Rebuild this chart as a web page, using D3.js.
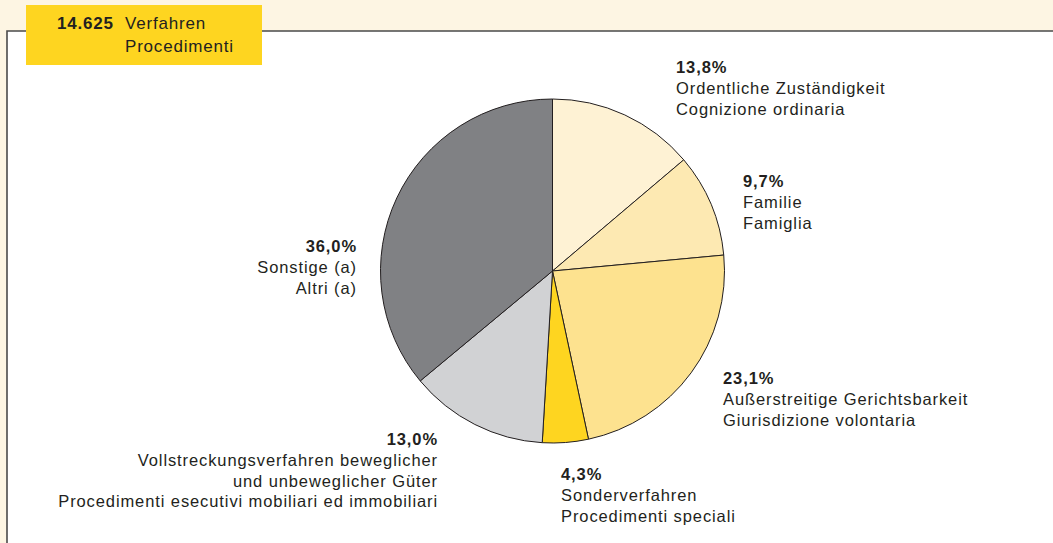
<!DOCTYPE html>
<html><head><meta charset="utf-8">
<script src="https://cdn.jsdelivr.net/npm/d3@7"></script>
<style>
html,body{margin:0;padding:0;background:#fdf5e3;}
svg{display:block;}
</style></head>
<body>
<script>
const categories = ["Ordentliche Zuständigkeit|Cognizione ordinaria","Familie|Famiglia","Außerstreitige Gerichtsbarkeit|Giurisdizione volontaria","Sonderverfahren|Procedimenti speciali","Vollstreckungsverfahren beweglicher|und unbeweglicher Güter|Procedimenti esecutivi mobiliari ed immobiliari","Sonstige (a)|Altri (a)"];
const values = [13.8, 9.7, 23.1, 4.3, 13.0, 36.0];
const valueLabels = ["13,8%","9,7%","23,1%","4,3%","13,0%","36,0%"];
const colors = ["#fef2d4","#fde9b2","#fde28f","#fed520","#d1d2d4","#808184"];
const titleNumber = "14.625";
const titleLines = ["Verfahren","Procedimenti"];

// label placement: [x, baseline y, anchor]
const labelPos = [[676,73,"start"],[743,187,"start"],[723,384,"start"],[561,480,"start"],[438,445,"end"],[357,252,"end"]];

const FONT = "'Liberation Sans', Arial, Helvetica, sans-serif";
const FS = 16.5, LS = 0.9;
const W=1053,H=543;
const svg=d3.select("body").append("svg").attr("width",W).attr("height",H).attr("font-family",FONT);
svg.append("rect").attr("x",0).attr("y",0).attr("width",W).attr("height",H).attr("fill","#fdf5e3");
svg.append("rect").attr("x",7).attr("y",31).attr("width",W).attr("height",H).attr("fill","#ffffff");
svg.append("path").attr("d",`M7,${H} V31 H${W}`).attr("fill","none").attr("stroke","#4a4a4a").attr("stroke-width",1.6);

// title box
svg.append("rect").attr("x",26).attr("y",5).attr("width",236).attr("height",60).attr("fill","#fed520");
svg.append("text").attr("x",57).attr("y",29).attr("font-size",17).attr("letter-spacing",0.8).attr("font-weight","bold").attr("fill","#231f20").text(titleNumber);
titleLines.forEach((t,i)=>svg.append("text").attr("x",125).attr("y",29+i*23).attr("font-size",17).attr("letter-spacing",0.8).attr("fill","#231f20").text(t));

const cx=552.5, cy=271, r=172;
const pie=d3.pie().sort(null).value(d=>d)(values);
const arc=d3.arc().innerRadius(0).outerRadius(r);
const g=svg.append("g").attr("transform",`translate(${cx},${cy})`);
g.selectAll("path").data(pie).join("path").attr("d",arc).attr("fill",(d,i)=>colors[i]).attr("stroke","#231f20").attr("stroke-width",1);

categories.forEach((c,i)=>{
  const [x,y,a]=labelPos[i];
  const t=svg.append("text").attr("x",x).attr("y",y).attr("text-anchor",a).attr("font-size",FS).attr("letter-spacing",LS).attr("fill","#231f20");
  t.append("tspan").attr("x",x).attr("y",y).attr("font-weight","bold").text(valueLabels[i]);
  c.split("|").forEach((line,j)=>t.append("tspan").attr("x",x).attr("y",y+20.8*(j+1)).text(line));
});
</script>
</body></html>
